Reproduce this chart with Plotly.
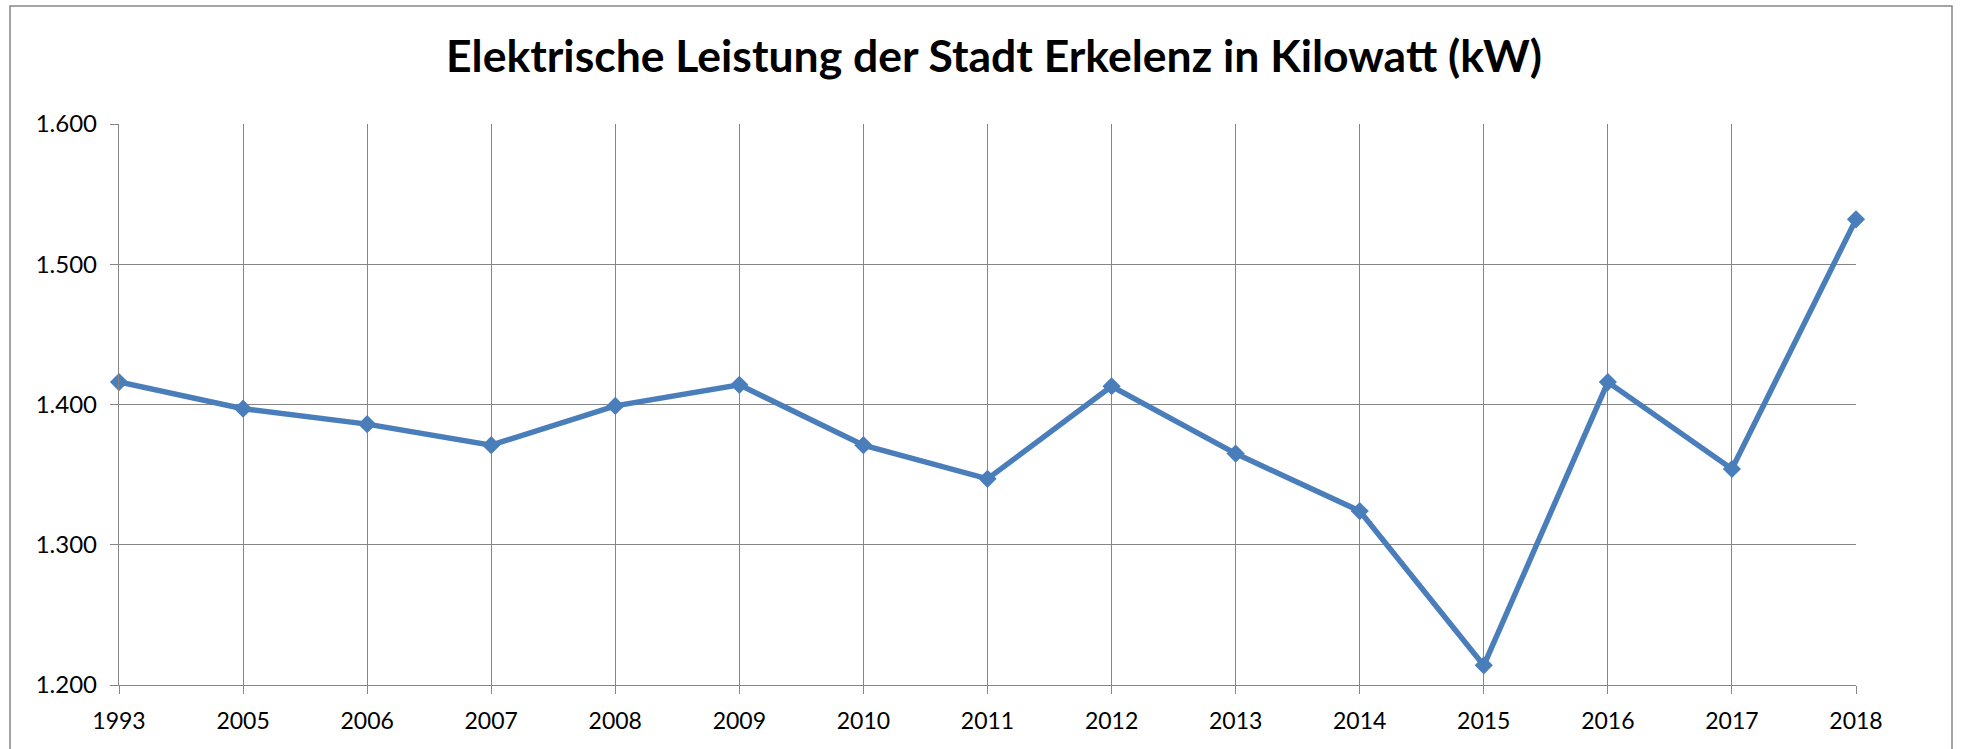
import plotly.graph_objects as go

years = ["1993", "2005", "2006", "2007", "2008", "2009", "2010", "2011",
         "2012", "2013", "2014", "2015", "2016", "2017", "2018"]
leistung_kw = [1416, 1397, 1386, 1371, 1399, 1414, 1371, 1347,
               1413, 1365, 1324, 1214, 1416, 1354, 1532]
y_tickvals = [1200, 1300, 1400, 1500, 1600]
y_ticktext = ["1.200", "1.300", "1.400", "1.500", "1.600"]
title_text = "Elektrische Leistung der Stadt Erkelenz in Kilowatt (kW)"

W, H = 1961, 749
L, R, T, B = 119, 1856, 124, 685

BLUE = "#4a7ebb"
GRID = "#868686"
FONT = "Lato, 'Open Sans', sans-serif"

fig = go.Figure()
fig.add_trace(go.Scatter(
    x=years, y=leistung_kw, mode="lines+markers",
    line=dict(color=BLUE, width=5.5),
    marker=dict(symbol="diamond", size=14, color=BLUE),
    cliponaxis=False, showlegend=False,
))

def px_to_paper_x(px):
    return (px - L) / (R - L)

def px_to_paper_y(py):
    return (B - py) / (B - T)

fig.update_layout(
    width=W, height=H,
    margin=dict(l=L, r=W - R, t=T, b=H - B, autoexpand=False),
    paper_bgcolor="white", plot_bgcolor="white",
    font=dict(family=FONT, color="black", size=24),
    title=dict(text="<b>" + title_text + "</b>", xref="container",
               x=994 / W, xanchor="center",
               y=1 - 56 / H, yanchor="middle", yref="container",
               font=dict(family=FONT, size=44.5, color="black")),
    shapes=[dict(type="rect", xref="paper", yref="paper",
                 x0=px_to_paper_x(10), x1=px_to_paper_x(1952),
                 y0=px_to_paper_y(790), y1=px_to_paper_y(6),
                 line=dict(color=GRID, width=1.5), layer="below")],
)
fig.update_xaxes(
    type="category", range=[0, len(years) - 1], automargin=False,
    showgrid=True, gridcolor=GRID, gridwidth=1.4,
    showline=True, linecolor=GRID, linewidth=1.4, mirror=False,
    ticks="outside", ticklen=8, tickcolor=GRID, tickwidth=1.4,
    ticklabelstandoff=7, tickfont=dict(size=23, family=FONT),
    zeroline=False,
)
fig.update_yaxes(
    range=[1200, 1600], tickvals=y_tickvals, ticktext=y_ticktext,
    automargin=False,
    showgrid=True, gridcolor=GRID, gridwidth=1.4,
    showline=True, linecolor=GRID, linewidth=1.4,
    ticks="outside", ticklen=8, tickcolor=GRID, tickwidth=1.4,
    ticklabelstandoff=8, tickfont=dict(size=24, family=FONT),
    zeroline=False,
)

fig.write_html("out.html", config={"displayModeBar": False},
               post_script="document.body.style.margin='0px';")
